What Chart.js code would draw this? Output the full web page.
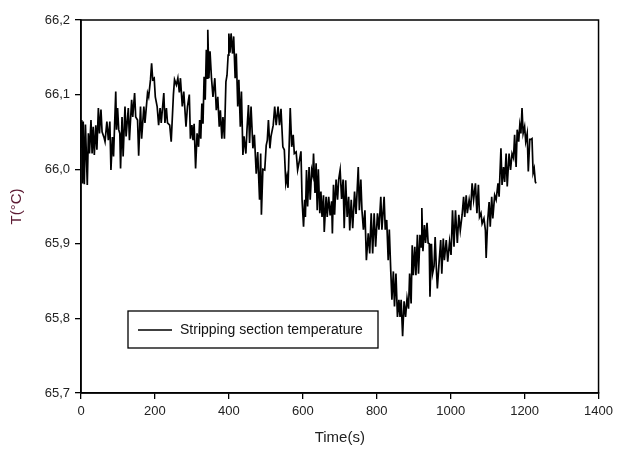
<!DOCTYPE html>
<html>
<head>
<meta charset="utf-8">
<title>Stripping section temperature</title>
<script src="https://cdn.jsdelivr.net/npm/chart.js@4.4.1/dist/chart.umd.min.js"></script>
<style>
  html, body { margin: 0; padding: 0; background: #fff; }
  #wrap { width: 618px; height: 456px; }
</style>
</head>
<body>
<div id="wrap"><canvas id="temp-chart" width="618" height="456"></canvas></div>
<script>
// --- Data ---
const seriesLabel = 'Stripping section temperature';

const timeSec = [
    0, 2, 4, 6, 9, 12, 17, 20, 23, 27, 30, 33, 36, 40, 43, 47, 50, 54, 57, 62,
    65, 70, 74, 78, 81, 85, 88, 94, 96, 99, 102, 105, 107, 111, 114, 119, 122, 128, 131, 137,
    140, 145, 148, 153, 156, 161, 164, 170, 173, 180, 183, 188, 191, 194, 198, 201, 206, 210, 214, 217,
    224, 227, 231, 234, 240, 244, 250, 253, 258, 262, 266, 269, 274, 278, 284, 288, 293, 296, 300, 303,
    306, 310, 314, 318, 321, 324, 327, 330, 333, 336, 339, 341, 343, 346, 349, 353, 357, 362, 366, 370,
    374, 377, 381, 384, 388, 392, 395, 398, 400, 403, 406, 410, 413, 417, 420, 424, 427, 431, 434, 438,
    441, 446, 449, 453, 456, 460, 465, 469, 474, 478, 483, 486, 488, 492, 497, 501, 504, 507, 511, 514,
    520, 524, 528, 533, 537, 541, 546, 550, 554, 557, 560, 563, 566, 570, 574, 577, 582, 586, 591, 595,
    598, 602, 605, 607, 610, 613, 617, 620, 624, 627, 629, 633, 636, 639, 642, 646, 649, 652, 656, 658,
    663, 666, 670, 674, 678, 680, 683, 686, 690, 694, 697, 701, 705, 709, 712, 716, 720, 724, 727, 731,
    735, 740, 744, 750, 753, 757, 760, 764, 768, 772, 777, 781, 785, 789, 793, 797, 802, 806, 811, 814,
    820, 823, 827, 831, 834, 838, 841, 845, 848, 852, 856, 860, 863, 866, 870, 874, 878, 882, 886, 889,
    893, 896, 899, 903, 906, 910, 913, 917, 920, 922, 925, 929, 932, 936, 939, 942, 944, 948, 951, 955,
    958, 961, 964, 968, 973, 976, 980, 983, 988, 992, 997, 1001, 1005, 1009, 1013, 1018, 1022, 1026, 1031, 1035,
    1038, 1042, 1045, 1050, 1054, 1058, 1062, 1067, 1071, 1075, 1078, 1082, 1085, 1090, 1094, 1096, 1100, 1104, 1107, 1111,
    1114, 1119, 1123, 1128, 1131, 1136, 1139, 1143, 1146, 1150, 1153, 1158, 1162, 1166, 1170, 1173, 1177, 1180, 1184, 1187,
    1190, 1193, 1196, 1200, 1203, 1207, 1210, 1214, 1217, 1220, 1223, 1226, 1229, 1231
];

const tempC = [
    66.030, 66.066, 65.981, 66.064, 65.980, 66.060, 65.979, 66.048, 66.021, 66.066, 66.021, 66.057, 66.019, 66.059, 66.026, 66.082, 66.048, 66.080, 66.050, 66.043,
    66.037, 66.064, 66.039, 66.064, 65.999, 66.043, 66.017, 66.104, 66.053, 66.082, 66.053, 66.048, 66.001, 66.070, 66.017, 66.084, 66.044, 66.082, 66.039, 66.093,
    66.070, 66.102, 66.070, 66.066, 66.018, 66.084, 66.041, 66.084, 66.062, 66.102, 66.097, 66.120, 66.142, 66.120, 66.122, 66.097, 66.084, 66.059, 66.082, 66.062,
    66.102, 66.062, 66.082, 66.062, 66.059, 66.037, 66.100, 66.120, 66.113, 66.122, 66.103, 66.122, 66.084, 66.104, 66.057, 66.084, 66.100, 66.041, 66.059, 66.039,
    66.061, 66.001, 66.048, 66.030, 66.066, 66.041, 66.088, 66.061, 66.124, 66.093, 66.160, 66.122, 66.187, 66.122, 66.158, 66.122, 66.097, 66.122, 66.079, 66.097,
    66.057, 66.079, 66.041, 66.070, 66.041, 66.117, 66.126, 66.153, 66.182, 66.156, 66.182, 66.155, 66.178, 66.122, 66.155, 66.084, 66.120, 66.057, 66.104, 66.019,
    66.044, 66.021, 66.053, 66.086, 66.035, 66.084, 66.028, 66.046, 65.994, 66.023, 65.959, 66.021, 65.939, 66.000, 65.999, 66.032, 66.039, 66.066, 66.028, 66.044,
    66.059, 66.084, 66.059, 66.084, 66.059, 66.081, 66.030, 66.026, 65.981, 65.990, 65.975, 66.030, 66.082, 66.030, 66.046, 66.021, 66.023, 65.999, 66.012, 66.024,
    65.959, 65.923, 65.959, 65.936, 65.999, 65.950, 66.003, 65.959, 65.999, 65.992, 66.021, 65.968, 66.008, 65.945, 66.000, 65.941, 65.970, 65.936, 65.965, 65.916,
    65.963, 65.936, 65.963, 65.938, 65.957, 65.914, 65.979, 65.939, 65.986, 65.959, 65.986, 65.999, 65.960, 65.986, 65.921, 65.985, 65.936, 65.963, 65.918, 65.959,
    65.921, 65.970, 65.940, 66.003, 65.945, 65.986, 65.945, 65.919, 65.945, 65.878, 65.914, 65.887, 65.941, 65.887, 65.941, 65.896, 65.941, 65.919, 65.963, 65.919,
    65.963, 65.919, 65.932, 65.878, 65.919, 65.863, 65.825, 65.863, 65.816, 65.860, 65.802, 65.825, 65.802, 65.825, 65.776, 65.823, 65.802, 65.827, 65.813, 65.860,
    65.820, 65.898, 65.858, 65.896, 65.858, 65.912, 65.860, 65.912, 65.896, 65.948, 65.890, 65.925, 65.901, 65.928, 65.901, 65.900, 65.829, 65.900, 65.860, 65.870,
    65.909, 65.870, 65.840, 65.870, 65.905, 65.860, 65.907, 65.878, 65.905, 65.876, 65.903, 65.885, 65.945, 65.896, 65.945, 65.901, 65.939, 65.918, 65.939, 65.963,
    65.936, 65.965, 65.941, 65.959, 65.945, 65.981, 65.959, 65.981, 65.941, 65.979, 65.936, 65.941, 65.927, 65.934, 65.918, 65.881, 65.930, 65.956, 65.923, 65.963,
    65.934, 65.965, 65.959, 65.981, 65.963, 66.028, 65.979, 66.003, 65.983, 66.021, 65.977, 66.021, 65.999, 66.021, 66.015, 66.046, 66.003, 66.053, 66.037, 66.059,
    66.048, 66.082, 66.048, 66.057, 66.037, 66.048, 65.997, 66.040, 66.040, 66.041, 65.995, 66.001, 65.983, 65.981
];

// Axis ticks
const xTicks = [0, 200, 400, 600, 800, 1000, 1200, 1400];
const yTicks = [65.7, 65.8, 65.9, 66.0, 66.1, 66.2];

// Box around the plot area (top and right sides included)
const framePlugin = {
    id: 'frame',
    afterDatasetsDraw(chart) {
        const { ctx, chartArea: a } = chart;
        ctx.save();
        ctx.strokeStyle = '#000';
        ctx.lineWidth = 1.5;
        ctx.strokeRect(a.left, a.top, a.right - a.left, a.bottom - a.top);
        ctx.restore();
    }
};

// Boxed legend inside the plot, lower left
const boxLegendPlugin = {
    id: 'boxLegend',
    afterDraw(chart) {
        const { ctx, chartArea: a } = chart;
        const x0 = a.left + 47, y0 = a.top + 291, w = 250, h = 37;
        ctx.save();
        ctx.fillStyle = '#fff';
        ctx.fillRect(x0, y0, w, h);
        ctx.strokeStyle = '#000';
        ctx.lineWidth = 1.3;
        ctx.strokeRect(x0, y0, w, h);
        ctx.beginPath();
        ctx.moveTo(x0 + 10, y0 + 19);
        ctx.lineTo(x0 + 44, y0 + 19);
        ctx.stroke();
        ctx.fillStyle = '#111';
        ctx.font = '14px "Liberation Sans", Arial, sans-serif';
        ctx.textBaseline = 'middle';
        ctx.fillText(chart.data.datasets[0].label, x0 + 52, y0 + 19);
        ctx.restore();
    }
};

const ctx = document.getElementById('temp-chart').getContext('2d');
new Chart(ctx, {
    type: 'line',
    data: {
        datasets: [{
            label: seriesLabel,
            data: timeSec.map((t, i) => ({ x: t, y: tempC[i] })),
            borderColor: '#000',
            borderWidth: 1.7,
            pointRadius: 0,
            tension: 0,
            fill: false
        }]
    },
    options: {
        responsive: false,
        animation: false,
        layout: { padding: { left: 0, top: 20, right: 18, bottom: 0 } },
        plugins: { legend: { display: false }, tooltip: { enabled: false } },
        scales: {
            x: {
                type: 'linear', min: 0, max: 1400,
                afterBuildTicks: (s) => { s.ticks = xTicks.map(v => ({ value: v })); },
                afterFit: (s) => { s.height = 63; },
                grid: { drawOnChartArea: false, drawTicks: true, tickLength: 6, color: '#000', lineWidth: 1.3 },
                border: { display: true, color: '#000', width: 1.5 },
                ticks: {
                    color: '#222', padding: 5, maxRotation: 0,
                    font: { size: 13, family: '"Liberation Sans", Arial, sans-serif' },
                    callback: (value) => String(value)
                },
                title: { display: true, text: 'Time(s)', color: '#222', padding: { top: 0, bottom: 9 }, font: { size: 15, family: '"Liberation Sans", Arial, sans-serif' } }
            },
            y: {
                type: 'linear', min: 65.7, max: 66.2,
                afterBuildTicks: (s) => { s.ticks = yTicks.map(v => ({ value: v })); },
                afterFit: (s) => { s.width = 81; },
                grid: { drawOnChartArea: false, drawTicks: true, tickLength: 6, color: '#000', lineWidth: 1.3 },
                border: { display: true, color: '#000', width: 1.5 },
                ticks: {
                    color: '#222', padding: 5,
                    font: { size: 13, family: '"Liberation Sans", Arial, sans-serif' },
                    callback: (value) => Number(value).toFixed(1).replace('.', ',')
                },
                title: { display: true, text: 'T(°C)', color: '#5c1a33', padding: { top: 8, bottom: 0 }, font: { size: 15, family: '"Liberation Sans", Arial, sans-serif' } }
            }
        }
    },
    plugins: [framePlugin, boxLegendPlugin]
});
</script>
</body>
</html>
